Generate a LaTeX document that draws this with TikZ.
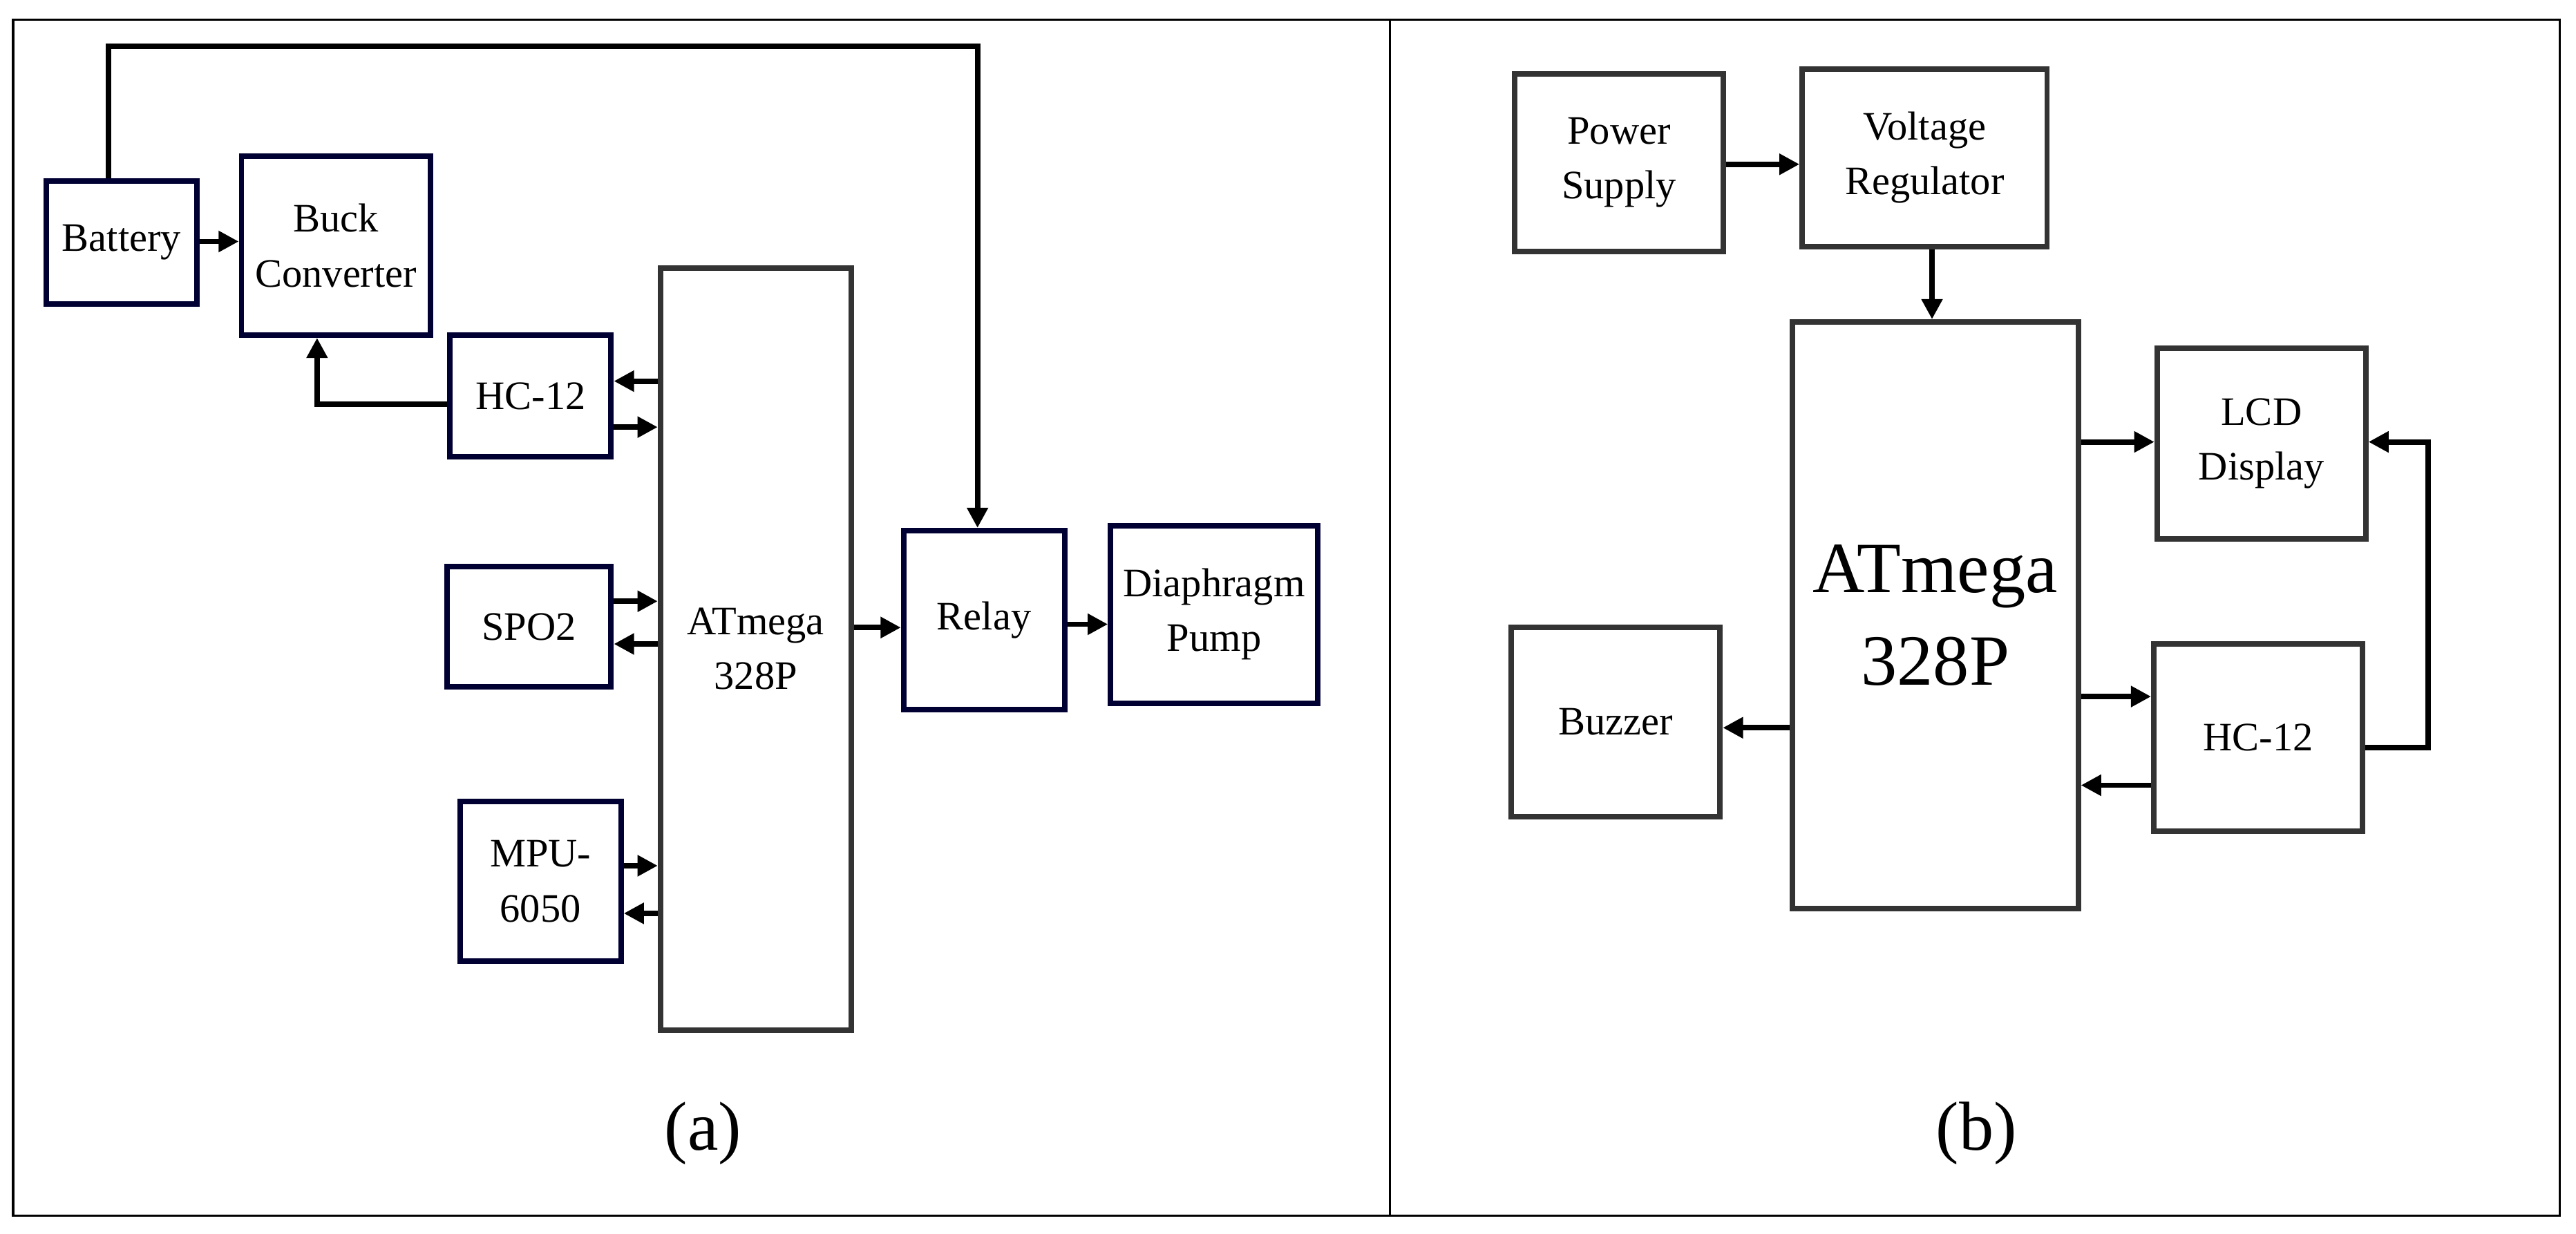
\documentclass[tikz,border=0pt]{standalone}
\usepackage{fontspec}
\setmainfont{Liberation Serif}
\usetikzlibrary{arrows.meta}
\begin{document}
\begin{tikzpicture}[x=0.02cm,y=-0.02cm,
  bx/.style={draw=#1,line width=1.9pt,inner sep=0pt,align=center,font=\fontsize{14}{19}\selectfont},
  bx/.default={black!80},
  nb/.style={bx={blue!20!black}},
  ar/.style={line width=1.9pt,-{Triangle[length=7pt,width=7pt]}},
  ln/.style={line width=1.9pt}]
\useasboundingbox (0,0) rectangle (1568,751);
\draw[line width=0.8pt] (8,12) rectangle (1558,740);
\draw[line width=0.8pt] (846,12) -- (846,740);
% left
\node[nb,minimum width=92*0.02cm,minimum height=75*0.02cm] (bat) at (74,147.5) {Battery};
\node[nb,minimum width=115*0.02cm,minimum height=109*0.02cm] (buck) at (204.5,149.5) {Buck\\Converter};
\node[nb,minimum width=98*0.02cm,minimum height=74*0.02cm] (hc) at (323,241) {HC-12};
\node[nb,minimum width=100*0.02cm,minimum height=73*0.02cm] (spo) at (322,381.5) {SPO2};
\node[nb,minimum width=98*0.02cm,minimum height=97*0.02cm] (mpu) at (329,536.5) {MPU-\\6050};
\node[bx,minimum width=116*0.02cm,minimum height=464*0.02cm] (atm) at (460,395) {ATmega\\328P};
\node[nb,minimum width=98*0.02cm,minimum height=109*0.02cm] (rel) at (599,377.5) {Relay};
\node[nb,minimum width=126*0.02cm,minimum height=108*0.02cm] (pump) at (739,374) {Diaphragm\\Pump};
\coordinate (t1) at (66,28); \coordinate (t2) at (595,28);
\draw[ar] (bat.north -| 66,0) -- (t1) -- (t2) -- (rel.north -| t2);
\draw[ar] (bat.east |- 0,147) -- (buck.west |- 0,147);
\coordinate (hb) at (193,246);
\draw[ar] (hc.west |- hb) -- (hb) -- (buck.south -| hb);
\draw[ar] (atm.west |- 0,232) -- (hc.east |- 0,232);
\draw[ar] (hc.east |- 0,260) -- (atm.west |- 0,260);
\draw[ar] (spo.east |- 0,366) -- (atm.west |- 0,366);
\draw[ar] (atm.west |- 0,392) -- (spo.east |- 0,392);
\draw[ar] (mpu.east |- 0,527) -- (atm.west |- 0,527);
\draw[ar] (atm.west |- 0,556) -- (mpu.east |- 0,556);
\draw[ar] (atm.east |- 0,382) -- (rel.west |- 0,382);
\draw[ar] (rel.east |- 0,380) -- (pump.west |- 0,380);
\node[font=\fontsize{24}{28}\selectfont] (la) at (428,690) {(a)};
% right
\node[bx,minimum width=127*0.02cm,minimum height=108*0.02cm] (ps) at (985.5,99) {Power\\Supply};
\node[bx,minimum width=149*0.02cm,minimum height=108*0.02cm] (vr) at (1171.5,96) {Voltage\\Regulator};
\node[bx,minimum width=174*0.02cm,minimum height=357*0.02cm,font=\fontsize{25}{32}\selectfont] (atb) at (1178,374.5) {ATmega\\328P};
\node[bx,minimum width=127*0.02cm,minimum height=116*0.02cm] (lcd) at (1376.5,270) {LCD\\Display};
\node[bx,minimum width=127*0.02cm,minimum height=114*0.02cm] (hcb) at (1374.5,449) {HC-12};
\node[bx,minimum width=127*0.02cm,minimum height=115*0.02cm] (buz) at (983.5,439.5) {Buzzer};
\draw[ar] (ps.east |- 0,100) -- (vr.west |- 0,100);
\draw[ar] (vr.south -| 1176,0) -- (atb.north -| 1176,0);
\draw[ar] (atb.east |- 0,269) -- (lcd.west |- 0,269);
\draw[ar] (atb.east |- 0,424) -- (hcb.west |- 0,424);
\draw[ar] (hcb.west |- 0,478) -- (atb.east |- 0,478);
\draw[ar] (atb.west |- 0,443) -- (buz.east |- 0,443);
\coordinate (r1) at (1478,455); \coordinate (r2) at (1478,269);
\draw[ar] (hcb.east |- r1) -- (r1) -- (r2) -- (lcd.east |- r2);
\node[font=\fontsize{24}{28}\selectfont] (lb) at (1203,690) {(b)};
\end{tikzpicture}
\end{document}
